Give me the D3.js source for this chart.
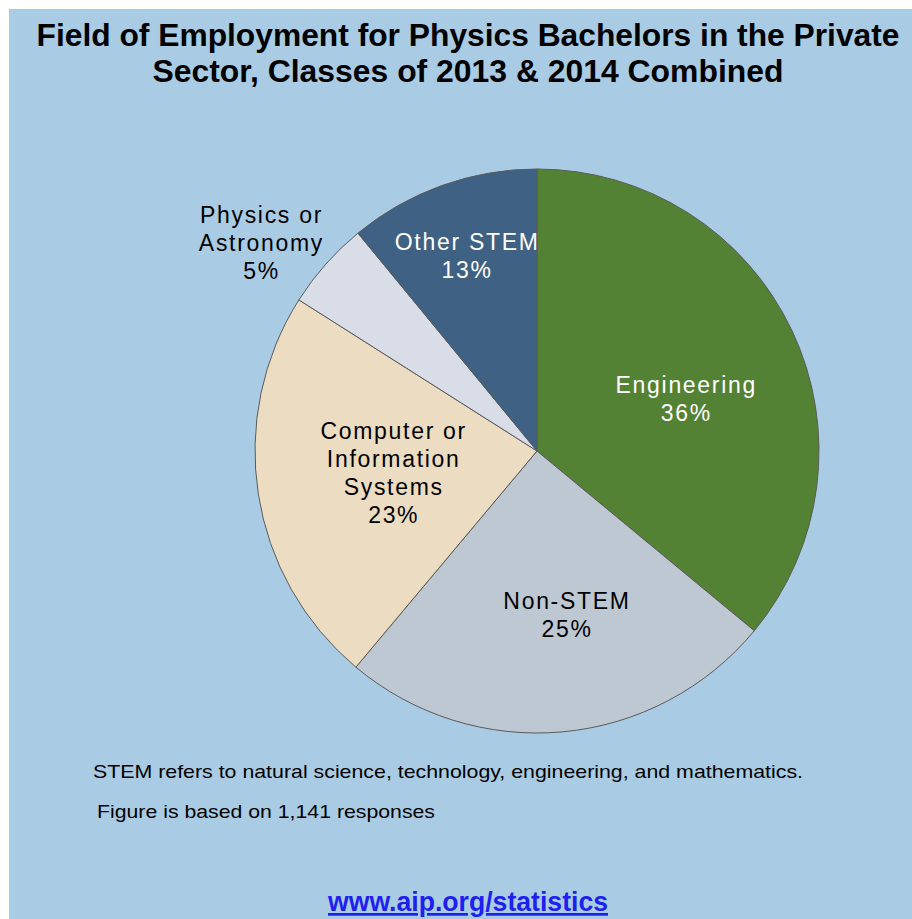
<!DOCTYPE html>
<html>
<head>
<meta charset="utf-8">
<script src="https://cdn.jsdelivr.net/npm/d3@7"></script>
<style>
  html, body { margin: 0; padding: 0; background: #ffffff; }
  svg { display: block; }
  text { font-family: Arial, "Liberation Sans", Helvetica, sans-serif; }
</style>
</head>
<body>
<div id="chart"></div>
<script>
// ---- data ----
const categories = ["Engineering", "Non-STEM", "Computer or Information Systems", "Physics or Astronomy", "Other STEM"];
const shares = [36, 25.1, 22.9, 5.05, 10.95];           // share of the pie as drawn
const percentLabels = ["36%", "25%", "23%", "5%", "13%"]; // printed labels
const labelLines = [["Engineering"], ["Non-STEM"], ["Computer or", "Information", "Systems"], ["Physics or", "Astronomy"], ["Other STEM"]];
const colors = ["#548235", "#bec8d3", "#ecdcc1", "#d8dde8", "#3f6183"];
const labelColors = ["#ffffff", "#000000", "#000000", "#000000", "#ffffff"];
const titleLines = ["Field of Employment for Physics Bachelors in the Private", "Sector, Classes of 2013 & 2014 Combined"];
const notes = ["STEM refers to natural science, technology, engineering, and mathematics.", "Figure is based on 1,141 responses"];
const linkText = "www.aip.org/statistics";

// ---- drawing ----
const W = 912, H = 919;
const svg = d3.select("#chart").append("svg").attr("width", W).attr("height", H);

svg.append("rect").attr("x", 9).attr("y", 9).attr("width", W - 9).attr("height", H - 9).attr("fill", "#a9cce4");

// title
svg.append("g").selectAll("text").data(titleLines).join("text")
  .attr("x", 468).attr("y", (d, i) => 46 + i * 36)
  .attr("text-anchor", "middle")
  .attr("font-size", 31).attr("font-weight", "bold").attr("fill", "#000")
  .attr("textLength", (d, i) => i === 0 ? 863 : 631)
  .attr("lengthAdjust", "spacingAndGlyphs")
  .text(d => d);

// pie
const cx = 537, cy = 451, R = 282;
const data = categories.map((c, i) => ({ cat: c, value: shares[i], i }));
const pie = d3.pie().value(d => d.value).sort(null);
const arcs = pie(data);
const arc = d3.arc().innerRadius(0).outerRadius(R);

const g = svg.append("g").attr("transform", `translate(${cx},${cy})`);
g.selectAll("path").data(arcs).join("path")
  .attr("d", arc)
  .attr("fill", d => colors[d.data.i])
  .attr("stroke", "#5a5a5a")
  .attr("stroke-width", 1);

// label layout: radius for centroid, plus nudge
const labelLayout = [
  { r: 165, dx: 0, dy: 18 },
  { r: 165, dx: 15, dy: 0 },
  { r: 145, dx: 0, dy: 0 },
  { r: 345, dx: 0, dy: 0, angle: 307 * Math.PI / 180 },
  { r: 207, dx: 0, dy: 0 }
];
const lineH = 28;
const labG = svg.append("g");
arcs.forEach((a, k) => {
  const L = labelLayout[k];
  const ang = L.angle !== undefined ? L.angle : (a.startAngle + a.endAngle) / 2;
  const x = cx + L.r * Math.sin(ang) + L.dx;
  const y = cy - L.r * Math.cos(ang) + L.dy;
  const lines = labelLines[k].concat([percentLabels[k]]);
  const n = lines.length;
  const t = labG.append("text")
    .attr("text-anchor", "middle")
    .attr("font-size", 23)
    .attr("letter-spacing", 1.7)
    .attr("fill", labelColors[k]);
  lines.forEach((ln, j) => {
    t.append("tspan")
      .attr("x", x)
      .attr("y", y + (j - (n - 1) / 2) * lineH + 8)
      .text(ln);
  });
});

// notes
svg.append("text").attr("x", 93).attr("y", 778).attr("font-size", 19).attr("fill", "#000")
  .attr("textLength", 710).attr("lengthAdjust", "spacingAndGlyphs").text(notes[0]);
svg.append("text").attr("x", 97).attr("y", 818).attr("font-size", 19).attr("fill", "#000")
  .attr("textLength", 338).attr("lengthAdjust", "spacingAndGlyphs").text(notes[1]);

// link
svg.append("text").attr("x", 468).attr("y", 911).attr("text-anchor", "middle")
  .attr("font-size", 27).attr("font-weight", "bold").attr("fill", "#1f1ff0")
  .attr("text-decoration", "underline")
  .attr("textLength", 280).attr("lengthAdjust", "spacingAndGlyphs")
  .text(linkText);
</script>
</body>
</html>
